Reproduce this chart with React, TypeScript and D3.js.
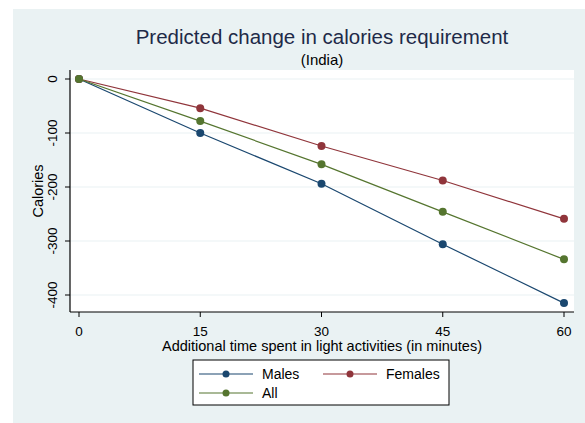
import React from "react";
import * as d3 from "d3";

const minutes = [0, 15, 30, 45, 60];
const males = [0, -100, -194, -306, -415];
const females = [0, -54, -124, -188, -259];
const all = [0, -78, -158, -246, -334];
const yTicks = [0, -100, -200, -300, -400];
const xTicks = [0, 15, 30, 45, 60];

const seriesList = [
  { name: "Males", values: males, color: "#1a476f" },
  { name: "Females", values: females, color: "#90353b" },
  { name: "All", values: all, color: "#55752f" },
];

const FONT = "'Liberation Sans', Arial, Helvetica, sans-serif";

export default function App() {
  const W = 585, H = 423;
  const plot = { left: 70, right: 574, top: 70, bottom: 312 };
  const x = d3.scaleLinear().domain([0, 60]).range([79, 564]);
  const y = d3.scaleLinear().domain([0, -400]).range([79, 295]);
  const line = d3.line<number>().x((_, i) => x(minutes[i])).y((d) => y(d));

  return (
    <svg width={W} height={H} style={{ position: "absolute", left: 0, top: 0 }} fontFamily={FONT}>
      <rect x={0} y={0} width={W} height={H} fill="#ffffff" />
      <rect x={13} y={9} width={W - 13} height={H - 9} fill="#eaf2f3" />
      <rect x={plot.left} y={plot.top} width={plot.right - plot.left} height={plot.bottom - plot.top} fill="#ffffff" />
      {yTicks.map((t) => (
        <line key={"g" + t} x1={plot.left} x2={plot.right} y1={y(t)} y2={y(t)} stroke="#eaf2f3" strokeWidth={1.2} />
      ))}
      {/* axes */}
      <line x1={plot.left} x2={plot.left} y1={plot.top} y2={plot.bottom} stroke="#000" strokeWidth={1.2} />
      <line x1={plot.left} x2={plot.right} y1={plot.bottom} y2={plot.bottom} stroke="#000" strokeWidth={1.2} />
      {yTicks.map((t) => (
        <g key={"y" + t}>
          <line x1={plot.left - 5} x2={plot.left} y1={y(t)} y2={y(t)} stroke="#000" />
          <text transform={`translate(${57},${y(t)}) rotate(-90)`} textAnchor="middle" fontSize={13.5} fill="#000">
            {t}
          </text>
        </g>
      ))}
      {xTicks.map((t) => (
        <g key={"x" + t}>
          <line x1={x(t)} x2={x(t)} y1={plot.bottom} y2={plot.bottom + 5} stroke="#000" />
          <text x={x(t)} y={336} textAnchor="middle" fontSize={13.5} fill="#000">
            {t}
          </text>
        </g>
      ))}
      {seriesList.map((s) => (
        <g key={s.name}>
          <path d={line(s.values) || ""} fill="none" stroke={s.color} strokeWidth={1.2} />
          {s.values.map((v, i) => (
            <circle key={i} cx={x(minutes[i])} cy={y(v)} r={4} fill={s.color} />
          ))}
        </g>
      ))}
      {/* titles */}
      <text x={322} y={44} textAnchor="middle" fontSize={20.5} fill="#1e2a48">
        Predicted change in calories requirement
      </text>
      <text x={322} y={65} textAnchor="middle" fontSize={15} fill="#000">
        (India)
      </text>
      <text x={322} y={351} textAnchor="middle" fontSize={14.5} fill="#000">
        Additional time spent in light activities (in minutes)
      </text>
      <text transform={`translate(43,191) rotate(-90)`} textAnchor="middle" fontSize={14.5} fill="#000">
        Calories
      </text>
      {/* legend */}
      <rect x={193} y={360} width={256} height={45} fill="#ffffff" stroke="#000" strokeWidth={1} />
      {[
        { s: seriesList[0], lx: 199, ly: 374 },
        { s: seriesList[1], lx: 323, ly: 374 },
        { s: seriesList[2], lx: 199, ly: 393 },
      ].map(({ s, lx, ly }) => (
        <g key={"l" + s.name}>
          <line x1={lx} x2={lx + 54} y1={ly} y2={ly} stroke={s.color} strokeWidth={1.2} />
          <circle cx={lx + 27} cy={ly} r={3.5} fill={s.color} />
          <text x={lx + 63} y={ly + 5} fontSize={14} fill="#000">
            {s.name}
          </text>
        </g>
      ))}
    </svg>
  );
}
